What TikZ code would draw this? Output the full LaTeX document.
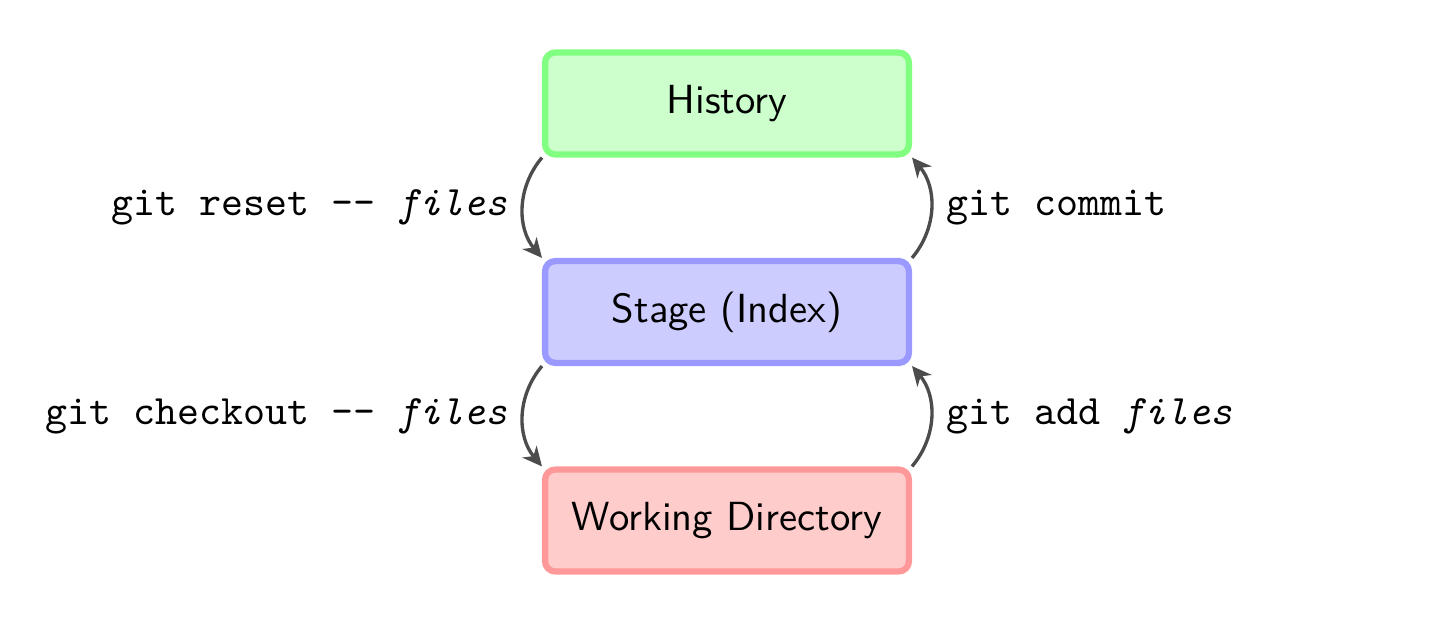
\documentclass[tikz,border=0pt]{standalone}
\usetikzlibrary{arrows.meta}
\begin{document}
\begin{tikzpicture}[x=0.2386pt,y=-0.2386pt,
  box/.style={draw, line width=1.5pt, rounded corners=2.4pt, minimum width=86.8pt, minimum height=24.3pt, font=\sffamily\fontsize{9.7}{12}\selectfont, inner sep=0pt},
  conn/.style={draw=black!70, line width=0.8pt, -{Stealth[length=4.6pt,width=4.4pt,inset=1.4pt]}},
  lab/.style={font=\ttfamily, text=black}]
\useasboundingbox (0,0) rectangle (1456,624);
\node[box, draw=green!50, fill=green!20] (H) at (727,103.5) {History};
\node[box, draw=blue!40, fill=blue!20] (S) at (727,312) {Stage (Index)};
\node[box, draw=red!40, fill=red!20] (W) at (727,520.5) {Working Directory};
\draw[conn] (H.south west) to[bend right=40] node[lab, left] {git reset -- \textit{files}} (S.north west);
\draw[conn] (S.north east) to[bend right=40] node[lab, right] {git commit} (H.south east);
\draw[conn] (S.south west) to[bend right=40] node[lab, left] {git checkout -- \textit{files}} (W.north west);
\draw[conn] (W.north east) to[bend right=40] node[lab, right] {git add \textit{files}} (S.south east);
\end{tikzpicture}
\end{document}
